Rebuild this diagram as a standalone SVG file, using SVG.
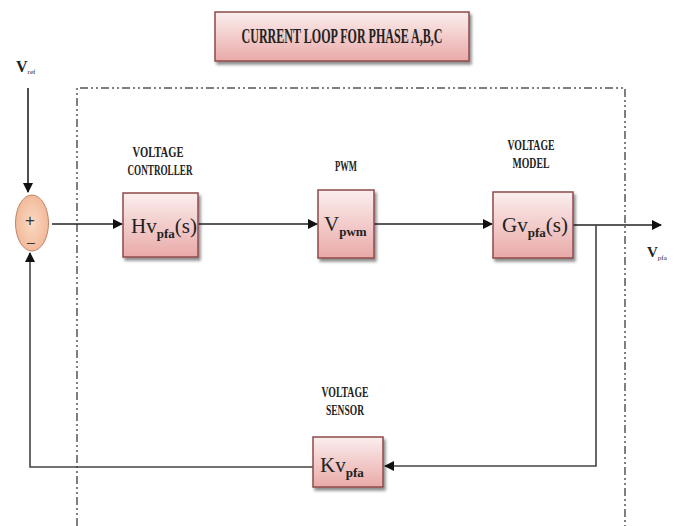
<svg xmlns="http://www.w3.org/2000/svg" width="674" height="526" viewBox="0 0 674 526">
<defs>
<linearGradient id="pink" x1="0" y1="0" x2="0" y2="1">
<stop offset="0" stop-color="#fbeeee"/>
<stop offset="1" stop-color="#e9aaa8"/>
</linearGradient>
<radialGradient id="sumg" cx="0.5" cy="0.5" r="0.6">
<stop offset="0" stop-color="#fbd9c3"/>
<stop offset="1" stop-color="#f0b492"/>
</radialGradient>
<filter id="sh" x="-10%" y="-10%" width="130%" height="130%">
<feGaussianBlur in="SourceAlpha" stdDeviation="1.5"/>
<feOffset dx="2" dy="3" result="o"/>
<feComponentTransfer><feFuncA type="linear" slope="0.45"/></feComponentTransfer>
<feMerge><feMergeNode/><feMergeNode in="SourceGraphic"/></feMerge>
</filter>
<marker id="arr" viewBox="0 0 10 10" refX="9" refY="5" markerWidth="10" markerHeight="10" markerUnits="userSpaceOnUse" orient="auto">
<path d="M0,0 L10,5 L0,10 z" fill="#111"/>
</marker>
</defs>
<style>
.blk{fill:url(#pink);stroke:#8e4a4a;stroke-width:1.5;filter:url(#sh)}
.lbl{font-family:"Liberation Serif",serif;font-weight:bold;font-size:14px;fill:#222;text-anchor:middle}
.main{font-family:"Liberation Serif",serif;font-size:21px;fill:#222}
.sub{font-family:"Liberation Serif",serif;font-weight:bold;font-size:13px;fill:#222}
.wire{fill:none;stroke:#222;stroke-width:1.6}
.frame{fill:none;stroke:#555;stroke-width:1.5;stroke-dasharray:8 3 2 3 2 3}
</style>
<g id="frame">
<path class="frame" d="M77,526 V88 H625 V526"/>
</g>
<g id="title">
<rect class="blk" x="215" y="12" width="254" height="49"/>
<text x="342" y="43" class="lbl" style="font-size:20px" textLength="201" lengthAdjust="spacingAndGlyphs">CURRENT LOOP FOR  PHASE A,B,C</text>
</g>
<g id="connectors">
<line class="wire" x1="28" y1="88" x2="28" y2="192" marker-end="url(#arr)"/>
<line class="wire" x1="52" y1="224" x2="122" y2="224" marker-end="url(#arr)"/>
<line class="wire" x1="198" y1="224" x2="317" y2="224" marker-end="url(#arr)"/>
<line class="wire" x1="374" y1="224" x2="492" y2="224" marker-end="url(#arr)"/>
<line class="wire" x1="573" y1="225" x2="661" y2="225" marker-end="url(#arr)"/>
<path class="wire" d="M596,225 V466 H385" marker-end="url(#arr)" style="stroke:#444"/>
<path class="wire" d="M313,467 H30 V253" marker-end="url(#arr)" style="stroke:#444"/>
</g>
<g id="vref">
<text x="16" y="72" class="main" style="font-size:16px;font-weight:bold">V<tspan class="sub" style="font-size:7px;font-weight:normal" dy="2">ref</tspan></text>
</g>
<g id="sum">
<ellipse cx="32" cy="223" rx="16.5" ry="28" fill="url(#sumg)" stroke="#c0826a" stroke-width="1"/>
<text x="25" y="226" style="font-family:'Liberation Sans',sans-serif;font-size:17px;fill:#333">+</text>
<text x="27" y="247" style="font-family:'Liberation Sans',sans-serif;font-size:14px;fill:#333">–</text>
</g>
<g id="controller">
<text x="158" y="157" class="lbl" textLength="51" lengthAdjust="spacingAndGlyphs">VOLTAGE</text>
<text x="160" y="175" class="lbl" textLength="65" lengthAdjust="spacingAndGlyphs">CONTROLLER</text>
<rect class="blk" x="123" y="193" width="75" height="64"/>
<text x="131" y="233" class="main">Hv<tspan class="sub" dy="5">pfa</tspan><tspan dy="-5">(s)</tspan></text>
</g>
<g id="pwm">
<text x="346" y="171" class="lbl" textLength="22" lengthAdjust="spacingAndGlyphs">PWM</text>
<rect class="blk" x="318" y="190" width="56" height="68"/>
<text x="324" y="231" class="main">V<tspan class="sub" dy="5">pwm</tspan></text>
</g>
<g id="model">
<text x="531" y="150" class="lbl" textLength="47" lengthAdjust="spacingAndGlyphs">VOLTAGE</text>
<text x="531" y="168" class="lbl" textLength="37" lengthAdjust="spacingAndGlyphs">MODEL</text>
<rect class="blk" x="493" y="192" width="80" height="66"/>
<text x="502" y="232" class="main">Gv<tspan class="sub" dy="5">pfa</tspan><tspan dy="-5">(s)</tspan></text>
</g>
<g id="vout">
<text x="647" y="257" class="main" style="font-size:15px;font-weight:bold">V<tspan class="sub" style="font-size:7px;font-weight:normal" dy="3">pfa</tspan></text>
</g>
<g id="sensor">
<text x="345" y="397" class="lbl" textLength="47" lengthAdjust="spacingAndGlyphs">VOLTAGE</text>
<text x="345" y="415" class="lbl" textLength="38" lengthAdjust="spacingAndGlyphs">SENSOR</text>
<rect class="blk" x="313" y="437" width="70" height="50"/>
<text x="320" y="472" class="main">Kv<tspan class="sub" dy="5">pfa</tspan></text>
</g>
</svg>
